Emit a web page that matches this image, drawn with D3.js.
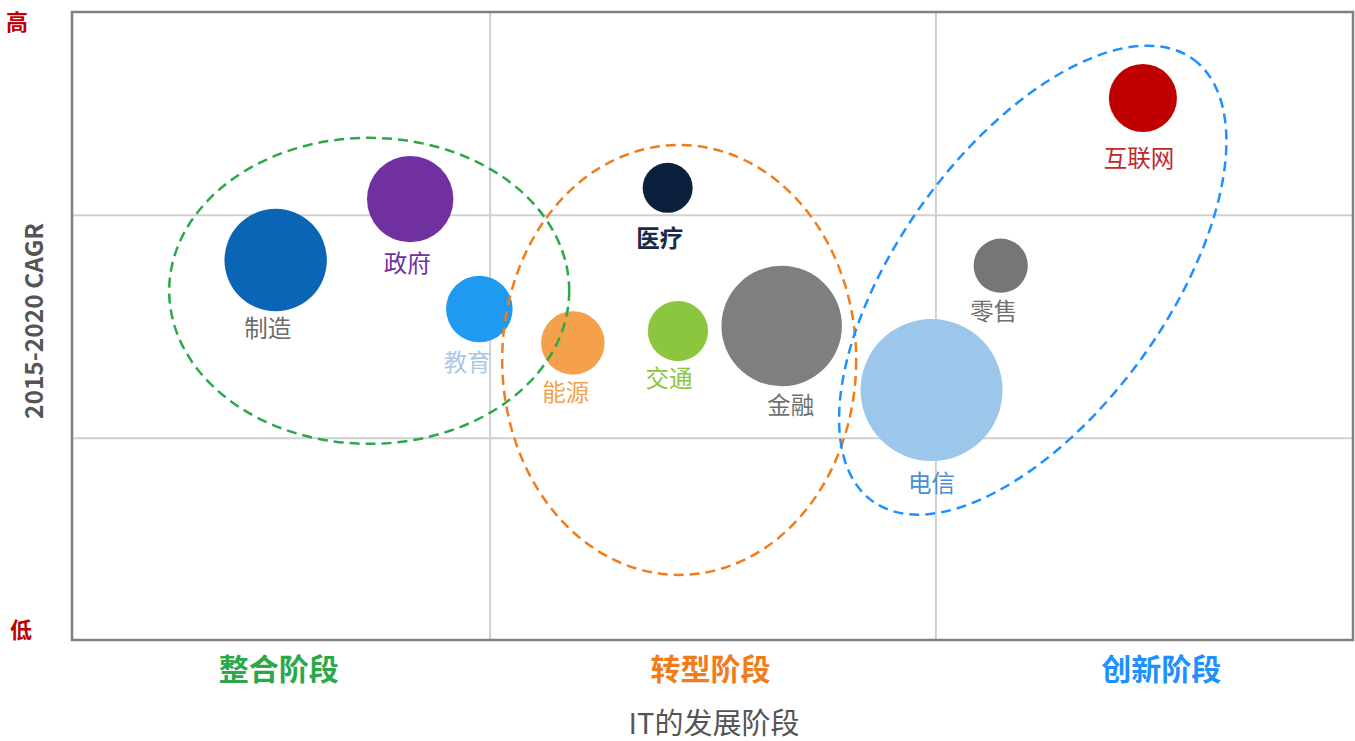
<!DOCTYPE html>
<html>
<head>
<meta charset="utf-8">
<script src="https://cdn.jsdelivr.net/npm/d3@7/dist/d3.min.js"></script>
<style>
  body { margin: 0; background: #fff; }
  text { font-family: "Noto Sans CJK SC", "Noto Sans", sans-serif; }
</style>
</head>
<body>
<div id="chart"></div>
<script>
// industries: stage position (x), growth (y), relative size
var industries = ['制造', '政府', '教育', '能源', '医疗', '交通', '金融', '电信', '零售', '互联网'];
var stageX = [15.9, 26.4, 31.8, 39.1, 46.5, 47.3, 55.4, 67.1, 72.5, 83.6];
var cagr = [60.5, 70.2, 52.7, 47.3, 72.0, 49.2, 50.0, 39.8, 59.6, 86.3];
var size = [26, 18.5, 11, 10, 6.2, 9, 36, 50, 7.3, 11.5];

// stages along the x axis and boundaries between them
var stages = ['整合阶段', '转型阶段', '创新阶段'];
var stageBounds = [0, 32.6, 67.4, 100];
var cagrBounds = [32.2, 67.7];

// dashed groupings (center in data units)
var groupCx = [23.2, 47.4, 75.0];
var groupCy = [55.6, 44.6, 57.3];

(function(d3) {

var fillColor = ['#0b65b5', '#7030a0', '#1f9af0', '#f5a04a', '#0c1f3c', '#8cc63f', '#7f7f7f', '#9dc7ea', '#767676', '#c00000'];
var labelColor = ['#6b6b6b', '#7030a0', '#a9c8e8', '#f5a04a', '#1a2a44', '#8cc63f', '#707070', '#4a8fd0', '#707070', '#c0282d'];
var stageColor = ['#2aa84a', '#f07d1a', '#1e90ff'];
// label nudges (px) relative to the bubble's bottom centre
var labelNudge = {
  '制造': [-8, 16], '政府': [-3, 20], '教育': [-12, 19], '能源': [-7, 16], '医疗': [-8, 24],
  '交通': [-9, 16], '金融': [9, 18], '电信': [0, 21], '零售': [-7, 17], '互联网': [-4, 25]
};
var groupShape = [
  { rx: 200, ry: 153, rot: 0 },
  { rx: 177, ry: 215, rot: 0 },
  { rx: 273, ry: 134, rot: -54 }
];

var width = 1355, height = 741;
var mLeft = 72, mRight = 1353, mTop = 12, mBottom = 640;

var svg = d3.select('#chart').append('svg')
  .attr('width', width)
  .attr('height', height);

var x = d3.scaleLinear().domain([0, 100]).range([mLeft, mRight]);
var y = d3.scaleLinear().domain([0, 100]).range([mBottom, mTop]);
var r = d3.scaleSqrt().domain([0, 50]).range([0, 71]);

// grid lines via axes
svg.append('g')
  .attr('transform', 'translate(0,' + mBottom + ')')
  .call(d3.axisBottom(x).tickValues(stageBounds.slice(1, 3)).tickSize(-(mBottom - mTop)).tickFormat(''))
  .call(function(g) {
    g.select('.domain').remove();
    g.selectAll('.tick line').attr('stroke', '#d0d0d0').attr('stroke-width', 2);
  });
svg.append('g')
  .attr('transform', 'translate(' + mLeft + ',0)')
  .call(d3.axisLeft(y).tickValues(cagrBounds).tickSize(-(mRight - mLeft)).tickFormat(''))
  .call(function(g) {
    g.select('.domain').remove();
    g.selectAll('.tick line').attr('stroke', '#d0d0d0').attr('stroke-width', 2);
  });

// frame
svg.append('rect')
  .attr('x', mLeft).attr('y', mTop)
  .attr('width', mRight - mLeft).attr('height', mBottom - mTop)
  .attr('fill', 'none')
  .attr('stroke', '#808080')
  .attr('stroke-width', 2.5);

var data = industries.map(function(d, i) {
  return { name: d, x: stageX[i], y: cagr[i], s: size[i], i: i };
});

// bubbles
svg.selectAll('circle.bubble')
  .data(data)
  .enter()
  .append('circle')
  .attr('class', 'bubble')
  .attr('cx', function(d) { return x(d.x); })
  .attr('cy', function(d) { return y(d.y); })
  .attr('r', function(d) { return r(d.s); })
  .attr('fill', function(d) { return fillColor[d.i]; });

svg.selectAll('text.label')
  .data(data)
  .enter()
  .append('text')
  .attr('class', 'label')
  .attr('x', function(d) { return x(d.x) + labelNudge[d.name][0]; })
  .attr('y', function(d) { return y(d.y) + r(d.s) + labelNudge[d.name][1]; })
  .attr('text-anchor', 'middle')
  .attr('dominant-baseline', 'central')
  .attr('font-size', 23.5)
  .attr('font-weight', function(d) { return d.name === '医疗' ? 700 : 400; })
  .attr('fill', function(d) { return labelColor[d.i]; })
  .text(function(d) { return d.name; });

// dashed ellipses
svg.selectAll('ellipse.group')
  .data(groupCx)
  .enter()
  .append('ellipse')
  .attr('class', 'group')
  .attr('transform', function(d, i) {
    return 'translate(' + x(d) + ',' + y(groupCy[i]) + ') rotate(' + groupShape[i].rot + ')';
  })
  .attr('rx', function(d, i) { return groupShape[i].rx; })
  .attr('ry', function(d, i) { return groupShape[i].ry; })
  .attr('fill', 'none')
  .attr('stroke', function(d, i) { return stageColor[i]; })
  .attr('stroke-width', 2.5)
  .attr('stroke-dasharray', '10,6');

// stage labels
svg.selectAll('text.stage')
  .data(stages)
  .enter()
  .append('text')
  .attr('class', 'stage')
  .attr('x', function(d, i) { return x((stageBounds[i] + stageBounds[i + 1]) / 2) + (i === 2 ? 17 : -2); })
  .attr('y', 667)
  .attr('text-anchor', 'middle')
  .attr('dominant-baseline', 'central')
  .attr('font-size', 30)
  .attr('font-weight', 700)
  .attr('fill', function(d, i) { return stageColor[i]; })
  .text(function(d) { return d; });

// axis titles
svg.append('text')
  .attr('x', 714).attr('y', 721)
  .attr('text-anchor', 'middle')
  .attr('dominant-baseline', 'central')
  .attr('font-size', 29)
  .attr('fill', '#555')
  .text('IT的发展阶段');

svg.append('text')
  .attr('transform', 'translate(32,321) rotate(-90)')
  .attr('text-anchor', 'middle')
  .attr('dominant-baseline', 'central')
  .attr('font-family', '"Liberation Sans", Arial, sans-serif')
  .attr('font-size', 24.5)
  .attr('font-weight', 700)
  .attr('fill', '#555')
  .text('2015-2020 CAGR');

svg.append('text')
  .attr('x', 17).attr('y', 20)
  .attr('text-anchor', 'middle')
  .attr('dominant-baseline', 'central')
  .attr('font-size', 22)
  .attr('font-weight', 700)
  .attr('fill', '#c00000')
  .text('高');

svg.append('text')
  .attr('x', 21).attr('y', 628)
  .attr('text-anchor', 'middle')
  .attr('dominant-baseline', 'central')
  .attr('font-size', 22)
  .attr('font-weight', 700)
  .attr('fill', '#c00000')
  .text('低');

})(window.d3);
</script>
</body>
</html>
